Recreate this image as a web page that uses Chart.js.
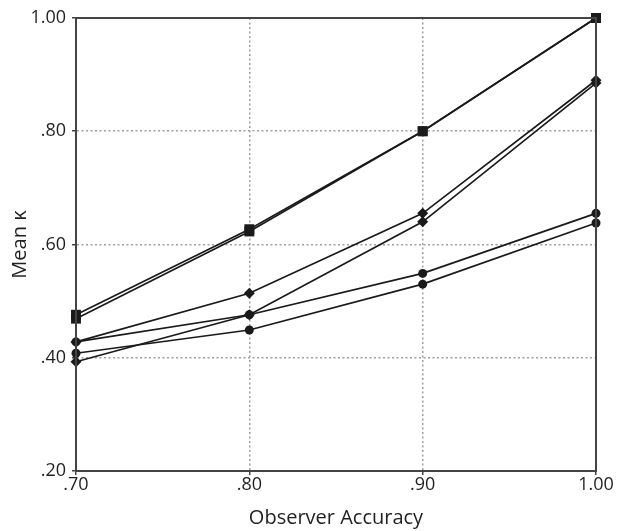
<!DOCTYPE html>
<html>
<head>
<meta charset="utf-8">
<script src="https://cdn.jsdelivr.net/npm/chart.js@4/dist/chart.umd.min.js"></script>
<style>
  html, body { margin: 0; padding: 0; background: #fff; }
  #wrap { width: 622px; height: 531px; }
</style>
</head>
<body>
<div id="wrap"><canvas id="c" width="622" height="531"></canvas></div>
<script>
// ---- data ----
const xValues = [0.70, 0.80, 0.90, 1.00];
const xTickLabels = ['.70', '.80', '.90', '1.00'];
const yTickLabels = ['.20', '.40', '.60', '.80', '1.00'];
const squareA  = [0.476, 0.627, 0.800, 1.000];
const squareB  = [0.469, 0.623, 0.800, 1.000];
const circleA  = [0.428, 0.476, 0.549, 0.655];
const circleB  = [0.408, 0.449, 0.530, 0.638];
const diamondA = [0.428, 0.514, 0.655, 0.890];
const diamondB = [0.393, 0.476, 0.640, 0.885];
const xTitle = 'Observer Accuracy';
const yTitle = 'Mean \u03BA';

const FONT = "'Open Sans', 'Noto Sans', sans-serif";
const TEXT = '#231f20';
const toPts = arr => arr.map((v, i) => ({ x: xValues[i], y: v }));

function ds(arr, style, radius) {
  return {
    data: toPts(arr),
    borderColor: '#1a1a1a',
    borderWidth: 1.7,
    backgroundColor: '#1a1a1a',
    pointBackgroundColor: '#1a1a1a',
    pointBorderColor: '#1a1a1a',
    pointBorderWidth: 0,
    pointStyle: style,
    pointRadius: radius,
    pointHoverRadius: radius,
    tension: 0,
    fill: false,
    clip: false
  };
}

const frame = {
  id: 'frame',
  afterDatasetsDraw(chart) {
    const { ctx, chartArea: a } = chart;
    ctx.save();
    ctx.strokeStyle = '#444';
    ctx.lineWidth = 2;
    ctx.strokeRect(a.left, a.top, a.right - a.left, a.bottom - a.top);
    ctx.restore();
  }
};

new Chart(document.getElementById('c'), {
  type: 'line',
  data: {
    datasets: [
      ds(circleA, 'circle', 4.5),
      ds(circleB, 'circle', 4.5),
      ds(squareA, 'rect', 7),
      ds(squareB, 'rect', 7),
      ds(diamondA, 'rectRot', 5.5),
      ds(diamondB, 'rectRot', 5.5)
    ]
  },
  options: {
    responsive: false,
    animation: false,
    devicePixelRatio: 1,
    layout: { padding: { left: 0, right: 26, top: 18, bottom: 0 } },
    plugins: { legend: { display: false }, tooltip: { enabled: false } },
    scales: {
      x: {
        type: 'linear',
        min: 0.7, max: 1.0,
        afterBuildTicks(scale) {
          scale.ticks = xValues.map(v => ({ value: v }));
        },
        afterFit(scale) { scale.height = 60; },
        ticks: {
          color: TEXT,
          font: { family: FONT, size: 18 },
          padding: -1,
          maxRotation: 0,
          autoSkip: false,
          callback: (v, i) => xTickLabels[i]
        },
        grid: {
          color: '#a0a0a0',
          lineWidth: 1.5,
          tickLength: 4,
          tickColor: '#444',
          tickWidth: 1.5,
          tickBorderDash: []
        },
        border: { display: true, color: '#444', width: 2, dash: [2, 2.5] },
        title: {
          display: true,
          text: xTitle,
          color: TEXT,
          font: { family: FONT, size: 20 },
          padding: { top: 0, bottom: 1 }
        }
      },
      y: {
        type: 'linear',
        min: 0.2, max: 1.0,
        afterBuildTicks(scale) {
          scale.ticks = yTickLabels.map((t, i) => ({ value: 0.2 + 0.2 * i }));
        },
        afterFit(scale) { scale.width = 76; },
        ticks: {
          color: TEXT,
          font: { family: FONT, size: 18 },
          padding: 6,
          autoSkip: false,
          callback: (v, i) => yTickLabels[i]
        },
        grid: {
          color: '#a0a0a0',
          lineWidth: 1.5,
          tickLength: 4,
          tickColor: '#444',
          tickWidth: 1.5,
          tickBorderDash: []
        },
        border: { display: true, color: '#444', width: 2, dash: [2, 2.5] },
        title: {
          display: true,
          text: yTitle,
          color: TEXT,
          font: { family: FONT, size: 20 },
          padding: { top: 8, bottom: 0 }
        }
      }
    }
  },
  plugins: [frame]
});
</script>
</body>
</html>
